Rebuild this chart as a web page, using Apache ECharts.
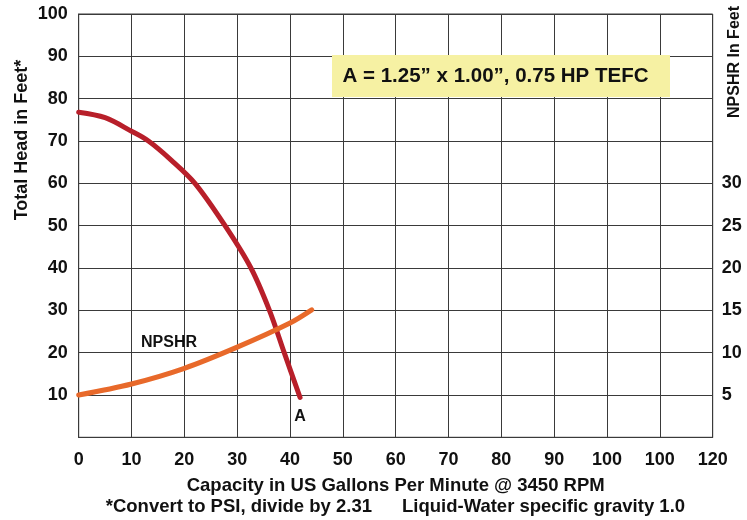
<!DOCTYPE html>
<html>
<head>
<meta charset="utf-8">
<script src="https://cdn.jsdelivr.net/npm/echarts@6/dist/echarts.min.js"></script>
<style>html,body{margin:0;padding:0;background:#fff}#c{width:747px;height:520px}</style>
</head>
<body>
<div id="c"></div>
<script>
// ---- data ----
const xTickLabels = ['0','10','20','30','40','50','60','70','80','90','100','100','120'];
const yLeftTickLabels = ['','10','20','30','40','50','60','70','80','90','100'];
const yRightTickLabels = ['','5','10','15','20','25','30','','','',''];
// Head curve A (GPM, feet)
const headA = [[0,76.8],[5,75.5],[10,72.3],[13.2,70],[17.5,65.5],[22,60],[27.7,50],[32.6,40],[36.1,30],[38.9,20],[41.9,9.4]];
// NPSHR curve (GPM, feet on right axis)
const npshr = [[0,5.0],[10,6.3],[20,8.15],[30,10.65],[40,13.5],[44.1,15.05]];
const headLabel = 'A';
const npshrLabel = 'NPSHR';
const boxText = 'A = 1.25\u201D x 1.00\u201D, 0.75 HP TEFC';
const xTitle = 'Capacity in US Gallons Per Minute @ 3450 RPM';
const note1 = '*Convert to PSI, divide by 2.31';
const note2 = 'Liquid-Water specific gravity 1.0';
const yLeftTitle = 'Total Head in Feet*';
const yRightTitle = 'NPSHR In Feet';

const FONT = "'Liberation Sans', Arial, Helvetica, sans-serif";
const GRID_C = '#3a3a3a';
const TXT = '#111';

const chart = echarts.init(document.getElementById('c'), null, {renderer:'canvas'});

chart.setOption({
  animation:false,
  backgroundColor:'#fff',
  grid:{left:78.7, right:34.3, top:14, bottom:82.7, show:true, borderColor:GRID_C, borderWidth:1},
  xAxis:{
    type:'value', min:0, max:120, interval:10,
    name:xTitle, nameLocation:'middle', nameGap:39,
    nameTextStyle:{fontFamily:FONT, fontWeight:'bold', fontSize:18.5, color:TXT},
    axisLine:{show:true, lineStyle:{color:GRID_C, width:1}},
    axisTick:{show:false},
    axisLabel:{margin:14, fontFamily:FONT, fontWeight:'bold', fontSize:18, color:TXT,
      showMinLabel:true, showMaxLabel:true,
      formatter:(v)=>xTickLabels[Math.round(v/10)]},
    splitLine:{show:true, lineStyle:{color:GRID_C, width:1}}
  },
  yAxis:[{
    type:'value', min:0, max:100, interval:10, position:'left',
    axisLine:{show:true, lineStyle:{color:GRID_C, width:1}},
    axisTick:{show:false},
    axisLabel:{margin:11, fontFamily:FONT, fontWeight:'bold', fontSize:18, color:TXT,
      showMinLabel:true, showMaxLabel:true, padding:[6,0,0,0],
      formatter:(v)=>yLeftTickLabels[Math.round(v/10)]},
    splitLine:{show:true, lineStyle:{color:GRID_C, width:1}}
  },{
    type:'value', min:0, max:50, interval:5, position:'right',
    axisLine:{show:false},
    axisTick:{show:false},
    axisLabel:{margin:9, fontFamily:FONT, fontWeight:'bold', fontSize:18, color:TXT,
      showMinLabel:true, showMaxLabel:true, padding:[6,0,0,0],
      formatter:(v)=>yRightTickLabels[Math.round(v/5)]},
    splitLine:{show:false}
  }],
  series:[{
    type:'line', yAxisIndex:0, data:headA, smooth:0.33,
    showSymbol:false, symbol:'none',
    lineStyle:{color:'#b81f2a', width:5, cap:'round', join:'round'},
    markPoint:{
      symbol:'circle', symbolSize:1, itemStyle:{color:'rgba(0,0,0,0)'},
      label:{show:true, position:'bottom', distance:11, formatter:headLabel,
        fontFamily:FONT, fontWeight:'bold', fontSize:16, color:TXT},
      data:[{coord:headA[headA.length-1]}]
    },
    z:3
  },{
    type:'line', yAxisIndex:1, data:npshr, smooth:0.33,
    showSymbol:false, symbol:'none',
    lineStyle:{color:'#e8692a', width:5, cap:'round', join:'round'},
    z:4
  }],
  graphic:[
    {type:'rect', shape:{x:332, y:55, width:338, height:42}, style:{fill:'#f6f1a3'}, z:10},
    {type:'text', x:495.5, y:76, z:11, style:{text:boxText, font:"bold 20.5px "+FONT, fill:TXT, align:'center', verticalAlign:'middle'}},
    {type:'text', x:141, y:343, z:11, style:{text:npshrLabel, font:"bold 16px "+FONT, fill:TXT, align:'left', verticalAlign:'middle'}},
    {type:'text', x:22, y:140, rotation:Math.PI/2, z:11, style:{text:yLeftTitle, font:"bold 18px "+FONT, fill:TXT, align:'center', verticalAlign:'middle'}},
    {type:'text', x:735, y:62, rotation:Math.PI/2, z:11, style:{text:yRightTitle, font:"bold 16px "+FONT, fill:TXT, align:'center', verticalAlign:'middle'}},
    {type:'text', x:372, y:507, z:11, style:{text:note1, font:"bold 18.5px "+FONT, fill:TXT, align:'right', verticalAlign:'middle'}},
    {type:'text', x:402, y:507, z:11, style:{text:note2, font:"bold 18.5px "+FONT, fill:TXT, align:'left', verticalAlign:'middle'}}
  ]
});
</script>
</body>
</html>
